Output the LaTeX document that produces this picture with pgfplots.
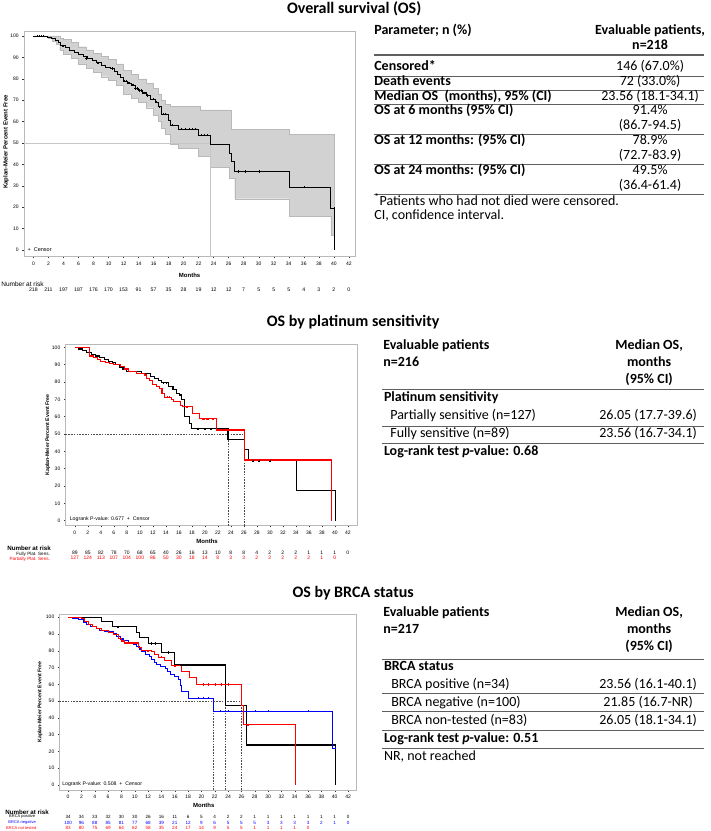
\documentclass[border=0pt]{standalone}
\usepackage{fontspec}
\setmainfont{Carlito}
\newfontfamily\arial{Liberation Sans}
\usepackage{pgfplots}
\pgfplotsset{compat=1.18}
\usepgfplotslibrary{fillbetween}
\definecolor{kmred}{RGB}{255,0,0}
\definecolor{kmblue}{RGB}{0,0,255}
\definecolor{rulec}{RGB}{95,95,95}
\newcommand{\tf}{\fontsize{14}{16}\selectfont}
\newcommand{\ttl}{\fontsize{16}{18}\selectfont\bfseries}
\pgfplotsset{
  km/.style={scale only axis, anchor=south west, clip=false,
    axis line style={gray!55, line width=0.5pt},
    tick align=outside, xtick pos=bottom, ytick pos=left,
    xtick={0,2,...,42}, ytick={0,10,...,100},
    major tick length=1.6pt,
    tick style={gray!40!black, line width=0.4pt},
    tick label style={font=\arial\fontsize{5}{6}\selectfont},
    /pgf/number format/assume math mode=true,
  },
  atrisk/.style 2 args={only marks, mark=none, nodes near coords, point meta=explicit symbolic,
    nodes near coords align={anchor=center},
    every node near coord/.append style={font=\arial\fontsize{#1}{#1}\selectfont, inner sep=0pt, text=#2}},
  refl/.style={gray!60!black, line width=0.5pt, dash pattern=on 1.6pt off 1.2pt},
  cens/.style={only marks, mark=+, mark size=1.1pt, mark options={line width=0.35pt}},
}
\begin{document}
\begin{tikzpicture}
\path (0pt,0pt) rectangle (709pt,-831pt);

% ---------------- titles
\node[font=\ttl, anchor=base, inner sep=0pt] at (353pt,-13.5pt) {Overall survival (OS)};
\node[font=\ttl, anchor=base, inner sep=0pt] at (352pt,-326pt) {OS by platinum sensitivity};
\node[font=\ttl, anchor=base, inner sep=0pt] at (352pt,-597pt) {OS by BRCA status};

% ---------------- plot 1
\begin{axis}[km, at={(22.7pt,-256.7pt)}, width=331.6pt, height=225pt,
  xmin=-1.28, xmax=42.88, ymin=-3.1, ymax=102]
\addplot[name path=up, const plot, draw=none, forget plot] coordinates {
(0,100) (3.0,100) (3.5,99) (4.0,98.5) (5.0,97) (6.0,95) (7.0,93.5) (8.0,92) (9.0,90.5)
(10.0,89) (11.0,87) (12.0,84) (13.0,82) (14.0,80) (15.0,78) (16.0,75.5) (16.6,73)
(17.0,70) (17.6,68) (18.2,67) (22.2,65.5) (26.3,56.5) (34.1,54) (40.1,54)};
\addplot[name path=lo, const plot, draw=none, forget plot] coordinates {
(0,100) (2.0,99) (2.5,97.5) (3.0,96) (3.5,93.5) (4.0,91.5) (5.0,89.5) (6.0,87) (7.0,85)
(8.0,83) (9.0,81) (10.0,79.5) (11.0,77) (12.0,73) (13.0,71) (14.0,69) (15.0,66.5)
(16.0,63) (16.6,60) (17.0,57) (17.6,54) (18.2,49.5) (19.3,47.5) (22.0,44) (23.56,38.5)
(26.05,33.5) (26.8,24) (34.1,16) (39.6,7) (40.1,7)};
\addplot[fill=gray!35, draw=gray!55, line width=0.3pt] fill between[of=up and lo];
\addplot[gray!45, line width=0.6pt] coordinates {(-1.28,50) (23.56,50)};
\addplot[gray!45, line width=0.6pt] coordinates {(23.56,-3.1) (23.56,50)};
\addplot[const plot, black, line width=0.6pt] coordinates {
(0,100) (1.9,99.5) (2.4,99) (2.9,98) (3.3,97) (3.6,95.5) (4.2,94.5) (4.8,93.5) (5.4,92.5)
(6.0,91.4) (6.6,90.5) (7.2,89.5) (7.8,88.5) (8.4,87.5) (9.0,86.5) (9.6,85.5) (10.3,84.8)
(10.8,83.5) (11.2,82) (11.6,80.5) (12.0,78.9) (12.5,78) (13.0,77) (13.5,75.5) (14.0,74.5)
(14.5,73.5) (15.0,72.2) (15.6,70.5) (16.2,69) (16.6,67) (17.0,63.5) (18.0,60.5) (18.2,58.5)
(19.3,56.5) (22.0,53.7) (23.56,49.5) (26.05,45) (26.3,41.5) (26.8,36.7) (34.1,29.3)
(39.6,19.5) (40.1,0)};
\addplot[cens] coordinates {
(0.5,100) (0.8,100) (1.0,100) (1.3,100) (3.8,95.5) (4.0,95.5) (7.0,89.5) (8.6,87.5)
(10.5,84.8) (12.1,78.9) (12.3,78.9) (12.6,78) (12.8,78) (13.1,77) (13.3,77) (13.6,75.5)
(13.8,75.5) (14.1,74.5) (14.3,74.5) (14.6,73.5) (14.8,73.5) (15.2,72.2) (16.0,70.5)
(16.4,69) (16.8,67) (17.3,63.5) (17.6,63.5) (18.5,58.5) (19.7,56.5) (20.2,56.5)
(20.7,56.5) (21.2,56.5) (21.5,56.5) (22.4,53.7) (22.8,53.7) (23.2,53.7) (27.3,36.7)
(28.2,36.7) (30.0,36.7) (36.0,29.3) (40.0,19.5)};
\addplot[atrisk={5.2}{black}] coordinates {
(0,-18.7)[218] (2,-18.7)[211] (4,-18.7)[197] (6,-18.7)[187] (8,-18.7)[176] (10,-18.7)[170]
(12,-18.7)[153] (14,-18.7)[91] (16,-18.7)[57] (18,-18.7)[35] (20,-18.7)[28] (22,-18.7)[19]
(24,-18.7)[12] (26,-18.7)[12] (28,-18.7)[7] (30,-18.7)[5] (32,-18.7)[5] (34,-18.7)[5]
(36,-18.7)[4] (38,-18.7)[3] (40,-18.7)[2] (42,-18.7)[0]};
\node[anchor=mid west, inner sep=0pt, font=\arial\fontsize{5.5}{6}\selectfont] at (axis cs:-0.8,0.6) {+\ \ Censor};
\end{axis}
\node[anchor=mid west, inner sep=0pt, font=\arial\fontsize{6.5}{7}\selectfont] at (0pt,-284pt) {Number at risk};
\node[font=\arial\bfseries\fontsize{6}{7}\selectfont] at (188.5pt,-275pt) {Months};
\node[rotate=90, font=\arial\bfseries\fontsize{6}{7}\selectfont] at (5pt,-142pt) {Kaplan-Meier Percent Event Free};

% ---------------- table 1
\begin{scope}[every node/.style={inner sep=0pt, font=\tf}]
\node[anchor=mid west, font=\tf\bfseries] at (373pt,-32pt) {Parameter; n (\%)};
\node[anchor=mid, font=\tf\bfseries] at (649pt,-32pt) {Evaluable patients,};
\node[anchor=mid, font=\tf\bfseries] at (649pt,-47pt) {n=218};
\draw[rulec, line width=1.5pt] (373pt,-55pt) -- (703pt,-55pt);
\node[anchor=mid west, font=\tf\bfseries] at (373pt,-68.3pt) {Censored*};
\node[anchor=mid] at (649pt,-68.3pt) {146 (67.0\%)};
\draw[rulec, line width=0.9pt] (373pt,-76pt) -- (703pt,-76pt);
\node[anchor=mid west, font=\tf\bfseries] at (373pt,-83.3pt) {Death events};
\node[anchor=mid] at (649pt,-83.3pt) {72 (33.0\%)};
\draw[rulec, line width=0.9pt] (373pt,-90.5pt) -- (703pt,-90.5pt);
\node[anchor=mid west, font=\tf\bfseries] at (373pt,-97.7pt) {Median OS\ \ (months), 95\% (CI)};
\node[anchor=mid] at (649pt,-97.7pt) {23.56 (18.1-34.1)};
\draw[rulec, line width=0.9pt] (373pt,-104.5pt) -- (703pt,-104.5pt);
\node[anchor=mid west, font=\tf\bfseries] at (373pt,-112.3pt) {OS at 6 months (95\% CI)};
\node[anchor=mid] at (649pt,-112.3pt) {91.4\%};
\node[anchor=mid] at (649pt,-126.7pt) {(86.7-94.5)};
\draw[rulec, line width=0.9pt] (373pt,-134.3pt) -- (703pt,-134.3pt);
\node[anchor=mid west, font=\tf\bfseries] at (373pt,-142.3pt) {OS at 12 months: (95\% CI)};
\node[anchor=mid] at (649pt,-142.3pt) {78.9\%};
\node[anchor=mid] at (649pt,-156.7pt) {(72.7-83.9)};
\draw[rulec, line width=0.9pt] (373pt,-164.3pt) -- (703pt,-164.3pt);
\node[anchor=mid west, font=\tf\bfseries] at (373pt,-172.3pt) {OS at 24 months: (95\% CI)};
\node[anchor=mid] at (649pt,-172.3pt) {49.5\%};
\node[anchor=mid] at (649pt,-186.7pt) {(36.4-61.4)};
\draw[rulec, line width=0.9pt] (373pt,-194.3pt) -- (703pt,-194.3pt);
\node[anchor=mid west] at (373pt,-203.3pt) {\textsuperscript{*}Patients who had not died were censored.};
\node[anchor=mid west] at (373pt,-217pt) {CI, confidence interval.};
\end{scope}

% ---------------- plot 2
\begin{axis}[km, at={(64.3pt,-525.7pt)}, width=292.2pt, height=181.7pt,
  xmin=-1.45, xmax=43.5, ymin=-2.9, ymax=101.9]
\addplot[refl] coordinates {(-1.45,50) (26.05,50)};
\addplot[refl] coordinates {(23.56,-2.9) (23.56,50)};
\addplot[refl] coordinates {(26.05,-2.9) (26.05,50)};
\addplot[const plot, black, line width=1.1pt] coordinates {
(0,100) (0.6,99) (1.2,98) (1.8,97) (2.5,96) (3.2,95) (3.8,94) (4.5,93) (5.2,92) (5.8,91)
(6.3,90) (6.8,88.5) (7.4,87.2) (8.0,85.8) (10.2,85) (11.7,83) (12.3,82) (12.8,80.8)
(13.3,79.6) (14.4,77.3) (15.1,75.8) (15.6,73.5) (16.1,72.5) (16.4,70) (16.8,63.8)
(16.9,60) (17.6,56) (18.0,53) (23.56,47) (26.05,41) (26.7,34.6) (34.1,17.3) (40.1,0)};
\addplot[const plot, kmred, line width=1.1pt] coordinates {
(0,100) (2.2,95) (2.8,94) (3.5,93) (4.0,92) (4.7,91) (5.3,90.5) (6.0,90) (7.0,89)
(7.6,87.5) (8.2,86) (9.5,85) (10.7,84) (11.0,82) (11.5,81) (12.0,78.5) (12.5,77.3)
(13.0,76) (13.4,73.5) (13.8,71.2) (14.8,70) (15.2,68.5) (16.2,66.5) (16.6,65.7)
(18.1,62) (19.2,58.7) (21.8,52.3) (26.05,35) (39.5,0)};
\addplot[cens, black] coordinates {(13.6,79.6) (14.0,79.6) (19.0,53) (20.0,53) (21.0,53)
(27.4,34.6) (28.3,34.6) (30.0,34.6)};
\addplot[cens, kmred] coordinates {(14.2,71.2) (14.5,71.2) (17.2,65.7) (19.8,58.7)
(20.4,58.7) (21.2,58.7) (22.3,52.3) (22.8,52.3) (36.0,35)};
\addplot[atrisk={5}{black}] coordinates {
(0,-18.5)[89] (2,-18.5)[85] (4,-18.5)[82] (6,-18.5)[78] (8,-18.5)[70] (10,-18.5)[68]
(12,-18.5)[65] (14,-18.5)[40] (16,-18.5)[26] (18,-18.5)[16] (20,-18.5)[13] (22,-18.5)[10]
(24,-18.5)[8] (26,-18.5)[8] (28,-18.5)[4] (30,-18.5)[2] (32,-18.5)[2] (34,-18.5)[2]
(36,-18.5)[1] (38,-18.5)[1] (40,-18.5)[1] (42,-18.5)[0]};
\addplot[atrisk={5}{kmred}] coordinates {
(0,-21.6)[127] (2,-21.6)[124] (4,-21.6)[113] (6,-21.6)[107] (8,-21.6)[104] (10,-21.6)[100]
(12,-21.6)[86] (14,-21.6)[50] (16,-21.6)[30] (18,-21.6)[18] (20,-21.6)[14] (22,-21.6)[8]
(24,-21.6)[3] (26,-21.6)[3] (28,-21.6)[2] (30,-21.6)[2] (32,-21.6)[2] (34,-21.6)[2]
(36,-21.6)[2] (38,-21.6)[1] (40,-21.6)[0]};
\node[anchor=mid west, inner sep=0pt, font=\arial\fontsize{5.2}{6}\selectfont] at (axis cs:-0.8,1.3) {Logrank P-value: 0.677\ \ +\ \ Censor};
\end{axis}
\node[anchor=mid west, inner sep=0pt, font=\arial\bfseries\fontsize{6.2}{7}\selectfont] at (6pt,-547.7pt) {Number at risk};
\node[anchor=mid east, inner sep=0pt, font=\arial\fontsize{4.6}{5}\selectfont] at (49pt,-552.9pt) {Fully Plat. Sens.};
\node[anchor=mid east, inner sep=0pt, text=kmred, font=\arial\fontsize{4.6}{5}\selectfont] at (49pt,-558.2pt) {Partially Plat. Sens.};
\node[font=\arial\bfseries\fontsize{6}{7}\selectfont] at (206pt,-541pt) {Months};
\node[rotate=90, font=\arial\bfseries\fontsize{5.2}{6}\selectfont] at (46.7pt,-435pt) {Kaplan-Meier Percent Event Free};

% ---------------- table 2
\begin{scope}[every node/.style={inner sep=0pt, font=\tf}]
\node[anchor=mid west, font=\tf\bfseries] at (382pt,-347.5pt) {Evaluable patients};
\node[anchor=mid west, font=\tf\bfseries] at (382pt,-364.5pt) {n=216};
\node[anchor=mid, font=\tf\bfseries] at (648pt,-347.5pt) {Median OS,};
\node[anchor=mid, font=\tf\bfseries] at (648pt,-364.5pt) {months};
\node[anchor=mid, font=\tf\bfseries] at (648pt,-381.5pt) {(95\% CI)};
\draw[rulec, line width=1.5pt] (381pt,-389.3pt) -- (703pt,-389.3pt);
\node[anchor=mid west, font=\tf\bfseries] at (382.7pt,-399.3pt) {Platinum sensitivity};
\node[anchor=mid west] at (389pt,-417.3pt) {Partially sensitive (n=127)};
\node[anchor=mid] at (647pt,-417.3pt) {26.05 (17.7-39.6)};
\draw[rulec, line width=0.9pt] (381pt,-426pt) -- (703pt,-426pt);
\node[anchor=mid west] at (389pt,-435.5pt) {Fully sensitive (n=89)};
\node[anchor=mid] at (647pt,-435.5pt) {23.56 (16.7-34.1)};
\draw[rulec, line width=0.9pt] (381pt,-443.3pt) -- (703pt,-443.3pt);
\node[anchor=mid west, font=\tf\bfseries] at (382.7pt,-453.3pt) {Log-rank test \textit{p}-value: 0.68};
\end{scope}

% ---------------- plot 3
\begin{axis}[km, at={(58.3pt,-790pt)}, width=297.3pt, height=175.7pt,
  xmin=-1.3, xmax=43.3, ymin=-3, ymax=101.7]
\addplot[refl] coordinates {(-1.3,50) (26.05,50)};
\addplot[refl] coordinates {(21.85,-3) (21.85,50)};
\addplot[refl] coordinates {(23.56,-3) (23.56,50)};
\addplot[refl] coordinates {(26.05,-3) (26.05,50)};
\addplot[const plot, black, line width=1.1pt] coordinates {
(0,100) (4.95,97.2) (6.7,94.2) (10.2,90.6) (10.7,87.8) (12.0,84.3) (14.0,79) (16.0,71.5)
(23.56,47.5) (26.7,23.8) (40.1,0)};
\addplot[const plot, kmblue, line width=1.1pt] coordinates {
(0,100) (0.7,99) (1.5,98.5) (2.3,97) (2.8,95.5) (3.3,94.4) (4.2,93) (4.7,92) (5.5,91.2)
(6.8,90.5) (7.2,88.5) (7.8,87) (8.3,86) (9.0,84.8) (9.8,83.5) (10.3,82.5) (10.7,81)
(11.0,79.5) (11.6,77.5) (12.2,76.5) (12.5,75) (12.9,73) (13.3,72) (13.8,70.5) (14.6,69.5)
(14.9,67.5) (15.3,66) (16.0,64.5) (16.5,63) (16.8,59.5) (17.0,55.6) (18.0,51.6)
(21.85,44) (39.6,22) (40.0,22)};
\addplot[const plot, kmred, line width=1.1pt] coordinates {
(0,100) (2.0,99) (2.4,97.5) (3.0,95.5) (3.6,94.5) (4.2,93.5) (5.0,92) (6.0,90.8)
(6.8,89.5) (7.5,87.5) (8.0,85.8) (8.5,84.6) (10.5,82) (11.0,80) (12.5,79.5) (13.0,77.8)
(13.5,76.2) (14.5,74) (15.5,71) (17.0,67.7) (18.2,64.1) (19.2,59.9) (26.05,47.5)
(26.3,35.8) (34.1,0)};
\addplot[cens, black] coordinates {(7.5,94.2) (12.5,84.3) (13.0,84.3) (15.0,79) (17.0,71.5)
(18.0,71.5) (20.0,71.5) (21.8,71.5)};
\addplot[cens, kmblue] coordinates {(19.5,51.6) (20.3,51.6) (21.0,51.6) (22.8,44) (24.0,44)
(28.0,44) (30.0,44) (36.0,44) (40.0,22)};
\addplot[cens, kmred] coordinates {(12.0,80) (14.0,76.2) (16.0,71) (20.2,59.9) (21.0,59.9)
(22.0,59.9) (23.0,59.9) (24.0,59.9) (27.0,35.8)};
\addplot[atrisk={4.6}{black}] coordinates {
(0,-18.9)[34] (2,-18.9)[34] (4,-18.9)[33] (6,-18.9)[32] (8,-18.9)[30] (10,-18.9)[30]
(12,-18.9)[26] (14,-18.9)[16] (16,-18.9)[11] (18,-18.9)[6] (20,-18.9)[5] (22,-18.9)[4]
(24,-18.9)[2] (26,-18.9)[2] (28,-18.9)[1] (30,-18.9)[1] (32,-18.9)[1] (34,-18.9)[1]
(36,-18.9)[1] (38,-18.9)[1] (40,-18.9)[1] (42,-18.9)[0]};
\addplot[atrisk={4.6}{kmblue}] coordinates {
(0,-22.5)[100] (2,-22.5)[96] (4,-22.5)[88] (6,-22.5)[85] (8,-22.5)[81] (10,-22.5)[77]
(12,-22.5)[68] (14,-22.5)[39] (16,-22.5)[21] (18,-22.5)[12] (20,-22.5)[9] (22,-22.5)[6]
(24,-22.5)[5] (26,-22.5)[5] (28,-22.5)[5] (30,-22.5)[3] (32,-22.5)[3] (34,-22.5)[3]
(36,-22.5)[3] (38,-22.5)[2] (40,-22.5)[1] (42,-22.5)[0]};
\addplot[atrisk={4.6}{kmred}] coordinates {
(0,-25.5)[83] (2,-25.5)[80] (4,-25.5)[75] (6,-25.5)[69] (8,-25.5)[64] (10,-25.5)[62]
(12,-25.5)[58] (14,-25.5)[35] (16,-25.5)[24] (18,-25.5)[17] (20,-25.5)[14] (22,-25.5)[9]
(24,-25.5)[5] (26,-25.5)[5] (28,-25.5)[1] (30,-25.5)[1] (32,-25.5)[1] (34,-25.5)[1]
(36,-25.5)[0]};
\node[anchor=mid west, inner sep=0pt, font=\arial\fontsize{5.2}{6}\selectfont] at (axis cs:-0.9,1.1) {Logrank P-value: 0.508\ \ +\ \ Censor};
\end{axis}
\node[anchor=mid west, inner sep=0pt, font=\arial\bfseries\fontsize{6.2}{7}\selectfont] at (4pt,-811.7pt) {Number at risk};
\node[inner sep=0pt, font=\arial\fontsize{4}{4.5}\selectfont] at (21pt,-816.9pt) {BRCA positive};
\node[inner sep=0pt, text=kmblue, font=\arial\fontsize{4}{4.5}\selectfont] at (21pt,-822.6pt) {BRCA negative};
\node[inner sep=0pt, text=kmred, font=\arial\fontsize{4}{4.5}\selectfont] at (20pt,-827.8pt) {BRCA not tested};
\node[font=\arial\bfseries\fontsize{6}{7}\selectfont] at (202.7pt,-805pt) {Months};
\node[rotate=90, font=\arial\bfseries\fontsize{5.2}{6}\selectfont] at (39pt,-702pt) {Kaplan-Meier Percent Event Free};

% ---------------- table 3
\begin{scope}[every node/.style={inner sep=0pt, font=\tf}]
\node[anchor=mid west, font=\tf\bfseries] at (382pt,-614pt) {Evaluable patients};
\node[anchor=mid west, font=\tf\bfseries] at (382pt,-631pt) {n=217};
\node[anchor=mid, font=\tf\bfseries] at (648pt,-614pt) {Median OS,};
\node[anchor=mid, font=\tf\bfseries] at (648pt,-631.5pt) {months};
\node[anchor=mid, font=\tf\bfseries] at (648pt,-648.3pt) {(95\% CI)};
\draw[rulec, line width=1.5pt] (380.7pt,-659.3pt) -- (703pt,-659.3pt);
\node[anchor=mid west, font=\tf\bfseries] at (382.7pt,-667.7pt) {BRCA status};
\node[anchor=mid west] at (390pt,-685.7pt) {BRCA positive (n=34)};
\node[anchor=mid] at (647pt,-685.7pt) {23.56 (16.1-40.1)};
\draw[rulec, line width=0.9pt] (380.7pt,-693.3pt) -- (703pt,-693.3pt);
\node[anchor=mid west] at (390pt,-704pt) {BRCA negative (n=100)};
\node[anchor=mid] at (647pt,-704pt) {21.85 (16.7-NR)};
\draw[rulec, line width=0.9pt] (380.7pt,-711.7pt) -- (703pt,-711.7pt);
\node[anchor=mid west] at (390pt,-721.7pt) {BRCA non-tested (n=83)};
\node[anchor=mid] at (647pt,-721.7pt) {26.05 (18.1-34.1)};
\draw[rulec, line width=0.9pt] (380.7pt,-730pt) -- (703pt,-730pt);
\node[anchor=mid west, font=\tf\bfseries] at (382.7pt,-740pt) {Log-rank test \textit{p}-value: 0.51};
\draw[rulec, line width=0.9pt] (380.7pt,-748.3pt) -- (703pt,-748.3pt);
\node[anchor=mid west] at (382.7pt,-758.3pt) {NR, not reached};
\end{scope}
\end{tikzpicture}
\end{document}
